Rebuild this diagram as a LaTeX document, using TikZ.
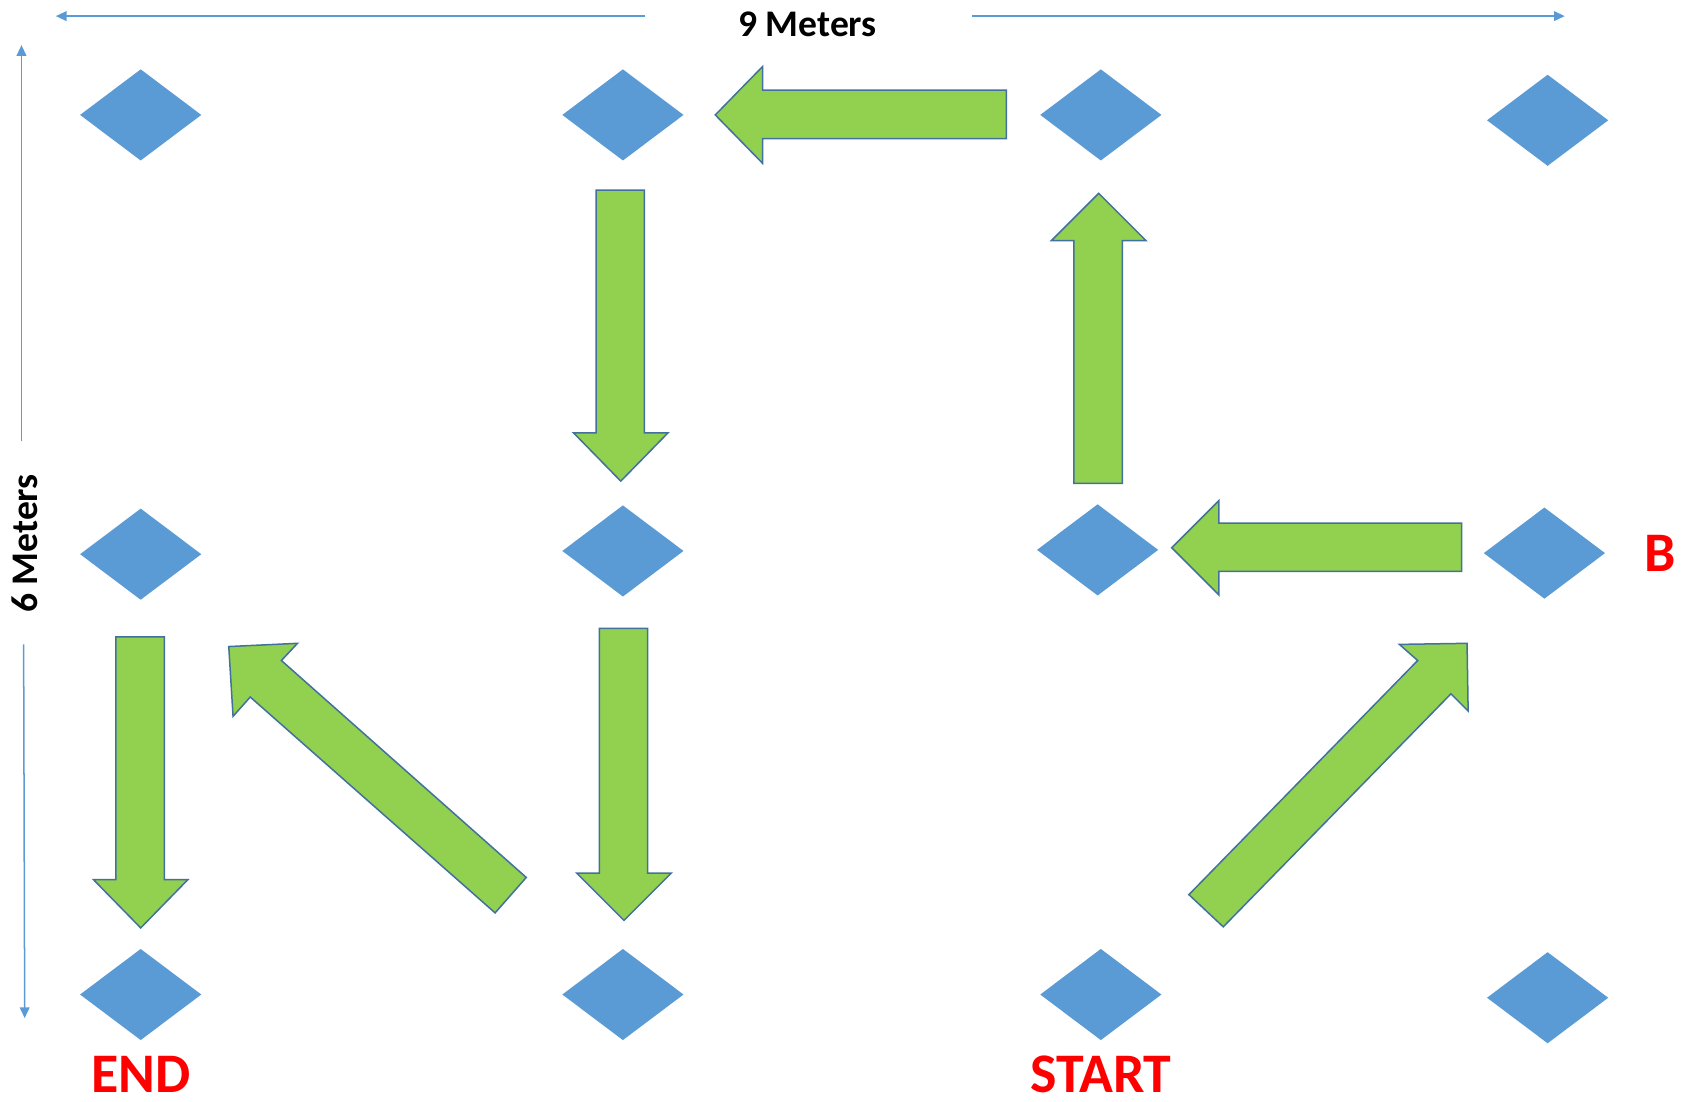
\documentclass[tikz,border=0pt]{standalone}
\usepackage{fontspec}
\setmainfont{Carlito}
\usetikzlibrary{shapes.geometric,arrows.meta}
\definecolor{dblue}{HTML}{5B9BD5}
\definecolor{agreen}{HTML}{92D050}
\definecolor{aedge}{HTML}{41719C}
\definecolor{lred}{HTML}{FF0000}
\begin{document}
\begin{tikzpicture}[x=1pt,y=-1pt,
  spot/.style={shape=diamond, fill=dblue, draw=none, minimum width=113pt, minimum height=85pt, inner sep=0pt},
  blockarrow/.style={fill=agreen, draw=aedge, line width=1.4pt, line join=miter},
  dimline/.style={draw=dblue, line width=1.4pt},
  dimtip/.style={-{Triangle[length=10pt,width=9pt]}},
  dimtext/.style={font=\bfseries\fontsize{35}{40}\selectfont, text=black, inner sep=0pt},
  redtext/.style={font=\bfseries\fontsize{52}{60}\selectfont, text=lred, inner sep=0pt}]
\useasboundingbox (0,0) rectangle (1568,1026);

% grid spots
\node[spot] (d11) at (131,107) {};
\node[spot] (d12) at (580,107) {};
\node[spot] (d13) at (1025,107) {};
\node[spot] (d14) at (1441,112) {};
\node[spot] (d21) at (131,516) {};
\node[spot] (d22) at (580,513) {};
\node[spot] (d23) at (1022,512) {};
\node[spot] (d24) at (1438,515) {};
\node[spot] (d31) at (131,926) {};
\node[spot] (d32) at (580,926) {};
\node[spot] (d33) at (1025,926) {};
\node[spot] (d34) at (1441,929) {};

% block arrows
\draw[blockarrow] (937,84) -- (710,84) -- (710,62) -- (666,107) -- (710,152) -- (710,129) -- (937,129) -- cycle;
\draw[blockarrow] (555,177) -- (600,177) -- (600,403) -- (622,403) -- (578,448) -- (534,403) -- (555,403) -- cycle;
\draw[blockarrow] (1000,450) -- (1000,224) -- (979,224) -- (1023,180) -- (1067,224) -- (1045,224) -- (1045,450) -- cycle;
\draw[blockarrow] (1361,487) -- (1135,487) -- (1135,466) -- (1091,510) -- (1135,554) -- (1135,532) -- (1361,532) -- cycle;
\draw[blockarrow] (108,593) -- (153,593) -- (153,819) -- (175,819) -- (131,864) -- (87,819) -- (108,819) -- cycle;
\draw[blockarrow] (558,585) -- (603,585) -- (603,813) -- (625,813) -- (581,857) -- (537,813) -- (558,813) -- cycle;
\draw[blockarrow] (490,817) -- (262,615) -- (277,599) -- (213,602) -- (217,667) -- (233,649) -- (461,850) -- cycle;
\draw[blockarrow] (1107,833) -- (1320,615) -- (1303,600) -- (1366,599) -- (1367,662) -- (1351,646) -- (1139,863) -- cycle;

% dimension lines
\node[dimtext] (w) at (752,23) {9 Meters};
\node[dimtext, rotate=90] (h) at (23,506) {6 Meters};
\coordinate (wl0) at (601,15);
\coordinate (wl1) at (52,15);
\coordinate (wr0) at (905,15);
\coordinate (wr1) at (1457,15);
\coordinate (ht0) at (20,411);
\coordinate (ht1) at (20,42);
\coordinate (hb0) at (22,600);
\coordinate (hb1) at (23,948);
\draw[dimline, dimtip] (wl0) -- (wl1);
\draw[dimline, dimtip] (wr0) -- (wr1);
\draw[dimline, dimtip] (ht0) -- (ht1);
\draw[dimline, dimtip] (hb0) -- (hb1);

% labels
\node[redtext] (lb) at (1546,515) {B};
\node[redtext] (le) at (131,1000) {END};
\node[redtext] (ls) at (1025,1000) {START};
\end{tikzpicture}
\end{document}
